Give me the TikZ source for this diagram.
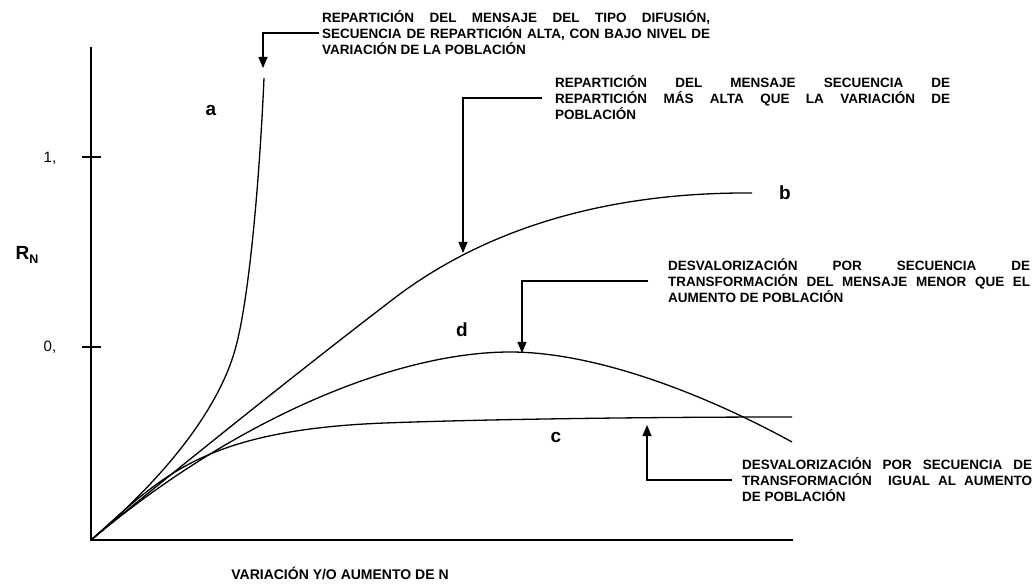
\documentclass[tikz,border=0pt]{standalone}
\usepackage{fontspec}
\setmainfont{Liberation Sans}
\usetikzlibrary{arrows.meta}
\begin{document}
\begin{tikzpicture}[x=1pt,y=-1pt,
  curve/.style={line width=1.3pt, line join=round},
  axis/.style={line width=1.3pt},
  arr/.style={line width=1.1pt, -{Triangle[width=9pt,length=11pt]}},
  anno/.style={font=\bfseries\fontsize{13.5}{16}\selectfont, align=left, inner sep=0pt, anchor=west},
  lbl/.style={font=\bfseries\fontsize{19}{19}\selectfont, inner sep=0pt},
  tick/.style={font=\fontsize{15}{15}\selectfont, inner sep=0pt}]
\useasboundingbox (0,0) rectangle (1034,585);
% axes
\coordinate (O) at (91,540);
\coordinate (Ytop) at (91,47);
\coordinate (Xend) at (793,540);
\draw[axis] (Ytop) -- (O) -- (Xend);
\coordinate (t1a) at (82,157); \coordinate (t1b) at (101,157);
\coordinate (t0a) at (82,347); \coordinate (t0b) at (101,347);
\draw[axis] (t1a) -- (t1b);
\draw[axis] (t0a) -- (t0b);
\node[tick] (l1) at (50,158) {1,};
\node[tick] (l0) at (50,347) {0,};
\node[font=\bfseries\fontsize{19}{19}\selectfont, inner sep=0pt] (rn) at (27,255) {R\raisebox{-0.35ex}{\fontsize{12.5}{12.5}\selectfont N}};
\node[font=\bfseries\fontsize{14}{14}\selectfont, inner sep=0pt] (xl) at (340,573) {VARIACIÓN Y/O AUMENTO DE N};
% curves
\draw[curve] (O) .. controls (150,490) and (215,420) .. (235,350)
                 .. controls (250,297) and (260,170) .. (264,78);
\draw[curve] (O) .. controls (200,450) and (320,355) .. (392,300)
                 .. controls (480,232) and (600,192) .. (752,193);
\draw[curve] (O) .. controls (240,415) and (400,352) .. (510,352)
                 .. controls (600,352) and (712,398) .. (792,442);
\draw[curve] (O) .. controls (160,479) and (200,430) .. (385,423)
                 .. controls (485,419.2) and (650,417) .. (792,417);
% curve labels
\node[lbl] (la) at (211,110) {a};
\node[lbl] (lb) at (785,193) {b};
\node[lbl] (ld) at (462,330) {d};
\node[lbl] (lc) at (556,437) {c};
% annotations
\node[anno] (tA) at (322,33) {\makebox[388pt][s]{REPARTICIÓN DEL MENSAJE DEL TIPO DIFUSIÓN,}\\\makebox[388pt][s]{SECUENCIA DE REPARTICIÓN ALTA, CON BAJO NIVEL DE}\\VARIACIÓN DE LA POBLACIÓN};
\node[anno] (tB) at (555,98) {\makebox[395pt][s]{REPARTICIÓN DEL MENSAJE SECUENCIA DE}\\\makebox[395pt][s]{REPARTICIÓN MÁS ALTA QUE LA VARIACIÓN DE}\\POBLACIÓN};
\node[anno] (tD) at (668,281) {\makebox[362pt][s]{DESVALORIZACIÓN POR SECUENCIA DE}\\\makebox[362pt][s]{TRANSFORMACIÓN DEL MENSAJE MENOR QUE EL}\\AUMENTO DE POBLACIÓN};
\node[anno] (tC) at (742,480) {\makebox[290pt][s]{DESVALORIZACIÓN POR SECUENCIA DE}\\\makebox[290pt][s]{TRANSFORMACIÓN\ \ IGUAL AL AUMENTO}\\DE POBLACIÓN};
% arrow tips
\coordinate (aT) at (263,68);
\coordinate (bT) at (463,253);
\coordinate (dT) at (522,353);
\coordinate (cT) at (647,425);
\draw[arr] ([xshift=-3pt]tA.west) -| (aT);
\draw[arr] ([xshift=-13pt]tB.west) -| (bT);
\draw[arr] ([xshift=-20pt]tD.west) -| (dT);
\draw[arr] ([xshift=-10pt]tC.west) -| (cT);
\end{tikzpicture}
\end{document}
